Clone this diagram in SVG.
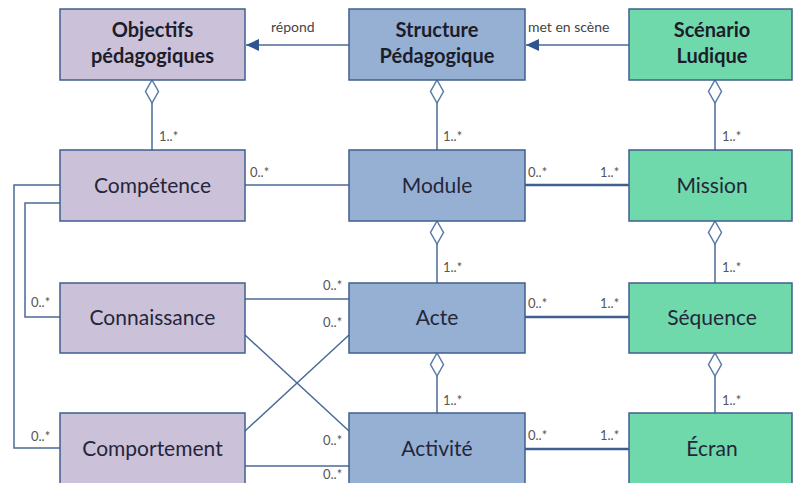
<svg xmlns="http://www.w3.org/2000/svg" width="795" height="483" viewBox="0 0 795 483">
<style>
.box{stroke:#3f5f8f;stroke-width:1.5}
.p{fill:#cbc1d9}
.b{fill:#95b0d3}
.g{fill:#6fd9ab}
.t{font-family:Lato,"Liberation Sans",sans-serif;font-size:21px;fill:#25263a;text-anchor:middle}
.tb{font-family:Lato,"Liberation Sans",sans-serif;font-size:20px;font-weight:bold;fill:#1c1d2a;text-anchor:middle}
.m{font-family:Lato,"Liberation Sans",sans-serif;font-size:13px;fill:#555}
.ml{font-family:Lato,"Liberation Sans",sans-serif;font-size:14px;fill:#444}
.c{fill:none;stroke:#4a6a98;stroke-width:1.5}
.cx{fill:none;stroke:#3f5f8f;stroke-width:2.5}
.d{fill:#fff;stroke:#5a7aa8;stroke-width:1.5}
</style>
<defs>
<marker id="arr" markerWidth="14" markerHeight="12" refX="13" refY="6" orient="auto" markerUnits="userSpaceOnUse">
<path d="M0,0 L13,6 L0,12 Z" fill="#2f5590"/>
</marker>
</defs>
<rect width="795" height="483" fill="#fff"/>
<g id="connectors">
<line class="c" x1="349" y1="45" x2="246" y2="45" marker-end="url(#arr)"/>
<text class="ml" x="271" y="32">répond</text>
<line class="c" x1="629" y1="45" x2="526" y2="45" marker-end="url(#arr)"/>
<text class="ml" x="528" y="32">met en scène</text>
<line class="c" x1="152" y1="103" x2="152" y2="150"/>
<path class="d" d="M152,80 L158.5,91.5 L152,103 L145.5,91.5 Z"/>
<text class="m" x="159" y="141">1..*</text>
<line class="c" x1="437" y1="103" x2="437" y2="150"/>
<path class="d" d="M437,80 L443.5,91.5 L437,103 L430.5,91.5 Z"/>
<text class="m" x="443" y="141">1..*</text>
<line class="c" x1="715" y1="103" x2="715" y2="150"/>
<path class="d" d="M715,80 L721.5,91.5 L715,103 L708.5,91.5 Z"/>
<text class="m" x="722" y="141">1..*</text>
<line class="c" x1="437" y1="244" x2="437" y2="283"/>
<path class="d" d="M437,221 L443.5,232.5 L437,244 L430.5,232.5 Z"/>
<text class="m" x="443" y="272">1..*</text>
<line class="c" x1="715" y1="244" x2="715" y2="283"/>
<path class="d" d="M715,221 L721.5,232.5 L715,244 L708.5,232.5 Z"/>
<text class="m" x="722" y="272">1..*</text>
<line class="c" x1="437" y1="376" x2="437" y2="413"/>
<path class="d" d="M437,353 L443.5,364.5 L437,376 L430.5,364.5 Z"/>
<text class="m" x="443" y="405">1..*</text>
<line class="c" x1="715" y1="376" x2="715" y2="413"/>
<path class="d" d="M715,353 L721.5,364.5 L715,376 L708.5,364.5 Z"/>
<text class="m" x="722" y="405">1..*</text>
<line class="c" x1="245" y1="185" x2="349" y2="185"/>
<text class="m" x="250" y="177">0..*</text>
<line class="cx" x1="525" y1="185" x2="629" y2="185"/>
<text class="m" x="528" y="177">0..*</text>
<text class="m" x="600" y="177">1..*</text>
<line class="cx" x1="525" y1="317" x2="629" y2="317"/>
<text class="m" x="528" y="308">0..*</text>
<text class="m" x="600" y="308">1..*</text>
<line class="cx" x1="525" y1="449" x2="629" y2="449"/>
<text class="m" x="528" y="440">0..*</text>
<text class="m" x="600" y="440">1..*</text>
<line class="c" x1="245" y1="299" x2="349" y2="299"/>
<text class="m" x="323" y="290">0..*</text>
<line class="c" x1="245" y1="335" x2="349" y2="431"/>
<line class="c" x1="245" y1="431" x2="349" y2="335"/>
<text class="m" x="323" y="327">0..*</text>
<text class="m" x="323" y="445">0..*</text>
<line class="c" x1="245" y1="466" x2="349" y2="466"/>
<text class="m" x="323" y="479">0..*</text>
<polyline class="c" points="60,203 25,203 25,317 60,317"/>
<text class="m" x="31" y="307">0..*</text>
<polyline class="c" points="60,185 14,185 14,448 60,448"/>
<text class="m" x="31" y="441">0..*</text>
</g>
<g id="objectifs">
<rect class="box p" x="60" y="9" width="185" height="71"/>
<text class="tb" x="152.5" y="37">Objectifs</text>
<text class="tb" x="152.5" y="63">pédagogiques</text>
</g>
<g id="structure">
<rect class="box b" x="349" y="9" width="176" height="71"/>
<text class="tb" x="437" y="37">Structure</text>
<text class="tb" x="437" y="63">Pédagogique</text>
</g>
<g id="scenario">
<rect class="box g" x="629" y="9" width="163" height="71"/>
<text class="tb" x="712" y="37">Scénario</text>
<text class="tb" x="712" y="63">Ludique</text>
</g>
<g id="competence">
<rect class="box p" x="60" y="150" width="185" height="71"/>
<text class="t" x="152.5" y="193">Compétence</text>
</g>
<g id="module">
<rect class="box b" x="349" y="150" width="176" height="71"/>
<text class="t" x="437" y="193">Module</text>
</g>
<g id="mission">
<rect class="box g" x="629" y="150" width="163" height="71"/>
<text class="t" x="712" y="193">Mission</text>
</g>
<g id="connaissance">
<rect class="box p" x="60" y="283" width="185" height="70"/>
<text class="t" x="152.5" y="325">Connaissance</text>
</g>
<g id="acte">
<rect class="box b" x="349" y="283" width="176" height="70"/>
<text class="t" x="437" y="325">Acte</text>
</g>
<g id="sequence">
<rect class="box g" x="629" y="283" width="163" height="70"/>
<text class="t" x="712" y="325">Séquence</text>
</g>
<g id="comportement">
<rect class="box p" x="60" y="413" width="185" height="71"/>
<text class="t" x="152.5" y="456">Comportement</text>
</g>
<g id="activite">
<rect class="box b" x="349" y="413" width="176" height="71"/>
<text class="t" x="437" y="456">Activité</text>
</g>
<g id="ecran">
<rect class="box g" x="629" y="413" width="163" height="71"/>
<text class="t" x="712" y="456">Écran</text>
</g>
</svg>
